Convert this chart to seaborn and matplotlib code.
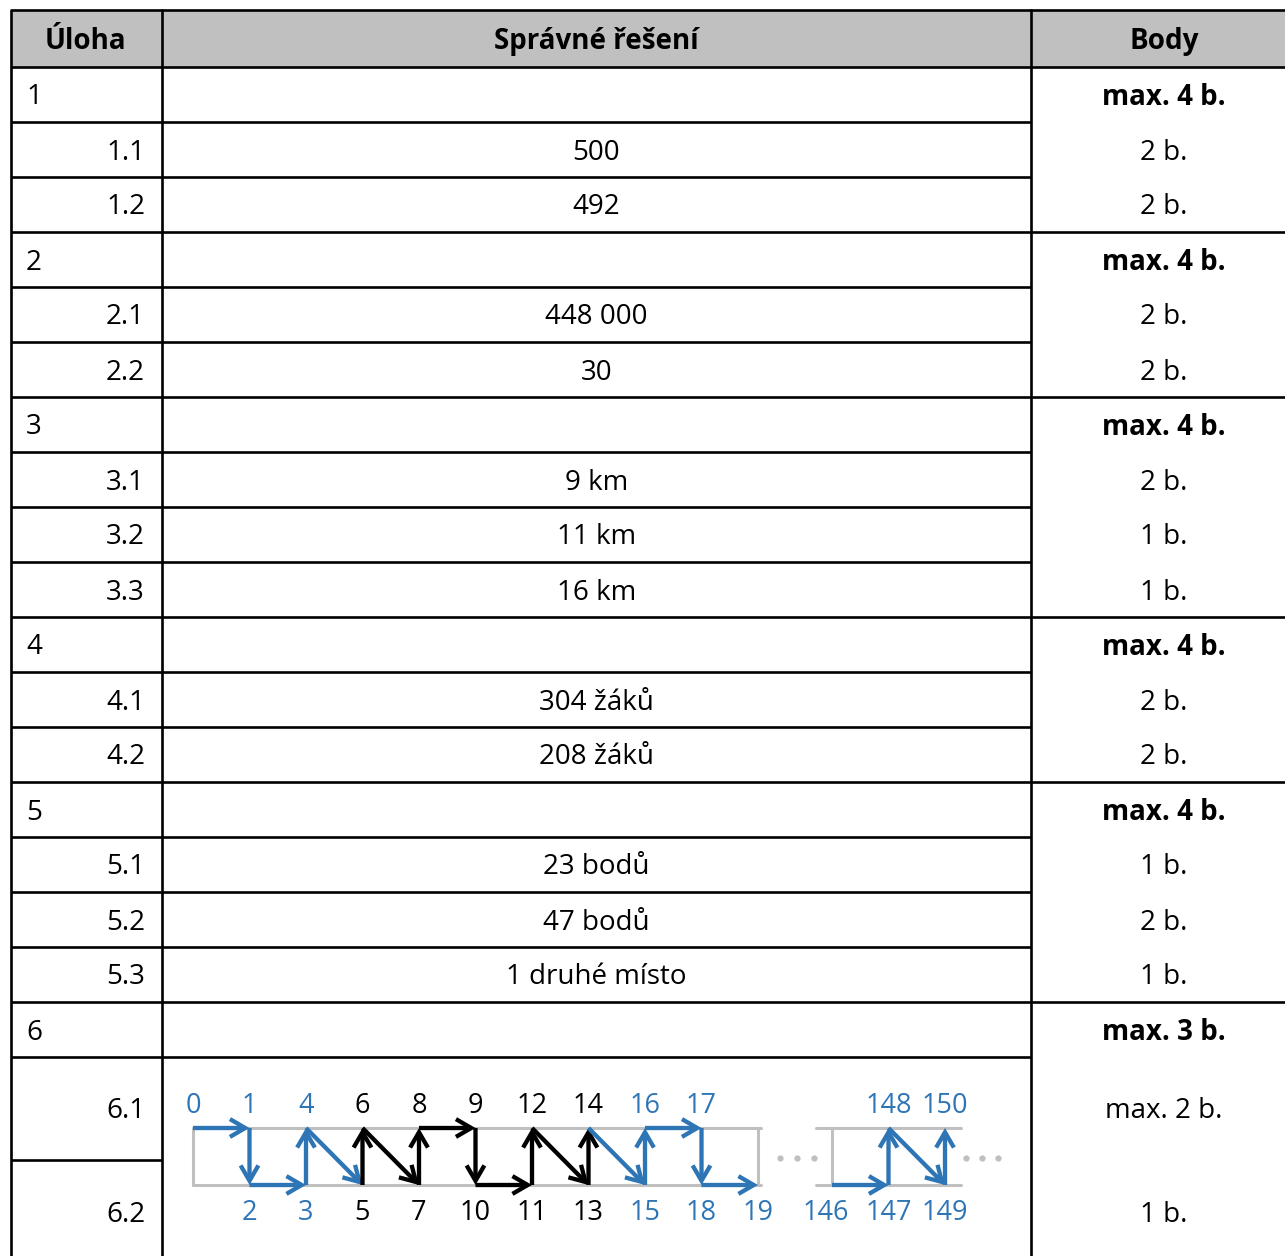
import numpy as np
import matplotlib
matplotlib.use('Agg')

import matplotlib.pyplot as plt
import seaborn as sns
from matplotlib.patches import FancyArrowPatch, Rectangle

sns.set_theme(style='white')
plt.rcParams['font.family'] = ['Open Sans', 'DejaVu Sans']
plt.rcParams['text.color'] = 'black'

# ================= DATA =================

HEADERS = ['Úloha', 'Správné řešení', 'Body']

TASKS = ['1', '1.1', '1.2', '2', '2.1', '2.2', '3', '3.1', '3.2', '3.3',
         '4', '4.1', '4.2', '5', '5.1', '5.2', '5.3', '6', '6.1', '6.2']

ANSWERS = ['', '500', '492', '', '448 000', '30', '', '9 km', '11 km', '16 km',
           '', '304 žáků', '208 žáků', '', '23 bodů', '47 bodů', '1 druhé místo',
           '', '', '']

POINTS = ['max. 4 b.', '2 b.', '2 b.', 'max. 4 b.', '2 b.', '2 b.',
          'max. 4 b.', '2 b.', '1 b.', '1 b.', 'max. 4 b.', '2 b.', '2 b.',
          'max. 4 b.', '1 b.', '2 b.', '1 b.', 'max. 3 b.', 'max. 2 b.', '1 b.']

# diagram for 6.1 / 6.2: numbers along the path and the move into each one
PATH_A = list(range(0, 20))
MOVES_A = ['', 'R', 'D', 'R', 'U', 'DR', 'U', 'DR', 'U', 'R', 'D',
           'R', 'U', 'DR', 'U', 'DR', 'U', 'R', 'D', 'R']
PATH_B = [146, 147, 148, 149, 150]
MOVES_B = ['', 'R', 'U', 'DR', 'U']
BLACK_NUMS = list(range(5, 15))

# ================= LAYOUT =================

W, H = 1285, 1256
X0, X1, X2, X3 = 11, 162, 1031, 1290
TOP, HEAD_B = 10, 67
ROW_H = 55
TALL_H = 103

BLUE = '#2e75b6'
GREY = '#c0c0c0'
LW = 1.9
FS = 20
BODY_X = 1164

fig = plt.figure(figsize=(W / 100, H / 100), dpi=100)
ax = fig.add_axes([0, 0, 1, 1])
ax.set_xlim(0, W)
ax.set_ylim(H, 0)
ax.axis('off')

# row edges
heights = [TALL_H if t.startswith('6.') else ROW_H for t in TASKS]
edges = [HEAD_B]
for h in heights:
    edges.append(edges[-1] + h)

# header
ax.add_patch(Rectangle((X0, TOP), X3 - X0, HEAD_B - TOP, facecolor=GREY,
                       edgecolor='none', zorder=0))
for x, txt in zip([(X0 + X1) / 2 - 1, (X1 + X2) / 2, BODY_X], HEADERS):
    ax.text(x, (TOP + HEAD_B) / 2 + 3, txt, ha='center', va='center',
            fontsize=FS, fontweight='bold', color='black')

ax.plot([X0, X3], [TOP, TOP], color='black', lw=LW, solid_capstyle='butt')
ax.plot([X0, X3], [HEAD_B, HEAD_B], color='black', lw=LW, solid_capstyle='butt')

# vertical lines
for x in [X0, X1, X2]:
    ax.plot([x, x], [TOP, H + 10], color='black', lw=LW)

# rows
for i, (task, ans, pts) in enumerate(zip(TASKS, ANSWERS, POINTS)):
    y0, y1 = edges[i], edges[i + 1]
    yc = (y0 + y1) / 2 + 3
    group = '.' not in task
    if group:
        ax.text(X0 + 15, yc, task, ha='left', va='center', fontsize=FS)
    else:
        ax.text(X1 - 17, yc, task, ha='right', va='center', fontsize=FS)
    if ans:
        ax.text((X1 + X2) / 2, yc, ans, ha='center', va='center', fontsize=FS)
    ax.text(BODY_X, yc, pts, ha='center', va='center', fontsize=FS,
            fontweight='bold' if group else 'normal')

    # bottom border of the row
    if i == len(TASKS) - 1:
        continue
    nxt = TASKS[i + 1]
    if task.startswith('6.'):
        right = X1
    elif '.' not in nxt:
        right = X3
    else:
        right = X2
    ax.plot([X0, right], [y1, y1], color='black', lw=LW, solid_capstyle='butt')

# ================= DIAGRAM =================

D_TOP, D_BOT = 1128, 1185
DX = 56.5
XA, XB = 193, 832


def walk(path, moves, x_start, level0):
    col, lev = 0, level0
    pts = []
    for n, m in zip(path, moves):
        if m in ('R', 'DR'):
            col += 1
        if m in ('D', 'DR'):
            lev = 'B'
        if m == 'U':
            lev = 'T'
        pts.append((n, x_start + col * DX, D_TOP if lev == 'T' else D_BOT, lev))
    return pts


pts_a = walk(PATH_A, MOVES_A, XA, 'T')
pts_b = walk(PATH_B, MOVES_B, XB, 'B')

# grey frame
end_a = pts_a[-1][1]
for yy in [D_TOP, D_BOT]:
    ax.plot([XA, end_a + 3], [yy, yy], color=GREY, lw=2.2, zorder=1)
    ax.plot([XB - 16, XB + 2 * DX + 16], [yy, yy], color=GREY, lw=2.2, zorder=1)
for xx in [XA, end_a, XB]:
    ax.plot([xx, xx], [D_TOP, D_BOT], color=GREY, lw=2.2, zorder=1)
for xd in [end_a + 22, end_a + 39, end_a + 56, 966, 982, 998]:
    ax.plot(xd, (D_TOP + D_BOT) / 2 + 1, 'o', color=GREY, ms=3.5, zorder=1)


def draw(pts):
    for k, (n, x, y, lev) in enumerate(pts):
        c = 'black' if n in BLACK_NUMS else BLUE
        ly = D_TOP - 22 if lev == 'T' else D_BOT + 28
        lx = x - 6 if n >= 100 and k == 0 else x
        ax.text(lx, ly, str(n), ha='center', va='center', fontsize=19.5, color=c)
        if k > 0:
            _, px, py, _ = pts[k - 1]
            ac = 'black' if BLACK_NUMS[0] < n <= BLACK_NUMS[-1] else BLUE
            arr = FancyArrowPatch((px, py), (x, y),
                                  arrowstyle='->,head_length=0.55,head_width=0.32',
                                  mutation_scale=20, color=ac, lw=3.1,
                                  shrinkA=0, shrinkB=0, zorder=3,
                                  joinstyle='miter', capstyle='butt')
            ax.add_patch(arr)


draw(pts_a)
draw(pts_b)

plt.savefig('out.png', dpi=100)
plt.close()
